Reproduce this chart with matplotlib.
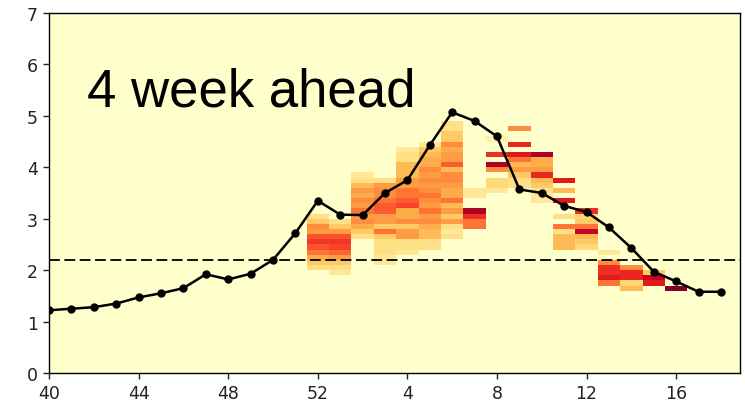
"""4 week ahead forecast heat strips over the observed ILI curve."""

import matplotlib

matplotlib.use("Agg")
import matplotlib.pyplot as plt
import numpy as np

# season weeks, 40..52 then 1..18
WEEKS = list(range(40, 53)) + list(range(1, 19))
OBSERVED = [1.22, 1.25, 1.28, 1.35, 1.47, 1.55, 1.65, 1.92, 1.82, 1.93, 2.2, 2.72, 3.35,
            3.08, 3.07, 3.5, 3.75, 4.43, 5.07, 4.9, 4.6, 3.57, 3.5, 3.25, 3.13, 2.83,
            2.43, 1.97, 1.78, 1.58, 1.58]
BASELINE = 2.2
TICK_WEEKS = [40, 44, 48, 52, 4, 8, 12, 16]

# forecast probability strips: week -> (lowest bin, levels per 0.1 bin going up)
FORECAST_START = {
    52: 2.0, 1: 1.9, 2: 2.6, 3: 2.1, 4: 2.3, 5: 2.4, 6: 2.6, 7: 2.8, 8: 3.5,
    9: 3.6, 10: 3.3, 11: 2.4, 12: 2.4, 13: 1.7, 14: 1.6, 15: 1.7, 16: 1.6,
}
FORECAST_LEVELS = {
    52: [.2, .3, .4, .55, .62, .68, .62, .45, .5, .3, .2],
    1: [.15, .2, .3, .45, .58, .65, .68, .62, .45, .3, .2],
    2: [.2, .3, .4, .5, .45, .55, .45, .5, .4, .45, .35, .2, .15],
    3: [.15, .15, .2, .2, .2, .3, .55, .3, .45, .45, .6, .6, .55, .5, .5, .45, .2],
    4: [.15, .2, .2, .45, .45, .3, .5, .4, .4, .65, .6, .55, .55, .45, .45, .35,
        .35, .35, .2, .2, .15],
    5: [.2, .2, .35, .35, .4, .5, .45, .55, .45, .5, .55, .5, .45, .5, .45, .5,
        .4, .4, .35, .3, .15],
    6: [.2, .15, .2, .45, .3, .45, .35, .55, .4, .4, .45, .5, .5, .35, .6, .45,
        .45, .4, .5, .3, .3, .2, .2],
    7: [.55, .55, .7, .9, 0, 0, .15, .15],
    8: [.15, .25, .25, 0, .5, .9, 0, .7, 0, 0, .1],
    9: [.2, .2, .3, .45, .35, .55, .75, 0, .72, 0, 0, .5],
    10: [.15, .15, .2, .3, .35, .72, .45, .4, .4, .9],
    11: [.35, .35, .35, .2, .55, 0, .2, 0, 0, .75, 0, .35, 0, .75],
    12: [.25, .3, .35, .85, .55, .3, .25, .7],
    13: [.55, .75, .7, .7, .5, 0, .15],
    14: [.35, .25, .72, .72, .5],
    15: [.75, .85, .3],
    16: [1.0],
}


def forecast_grid(bin_size: float = 0.1, y_max: float = 7.0) -> np.ndarray:
    n_bins = int(round(y_max / bin_size))
    grid = np.zeros((n_bins, len(WEEKS)))
    for week, start in FORECAST_START.items():
        col = WEEKS.index(week)
        row0 = int(round(start / bin_size))
        for k, level in enumerate(FORECAST_LEVELS[week]):
            grid[row0 + k, col] = level
    return np.ma.masked_equal(grid, 0)


def main() -> None:
    cmap = plt.get_cmap("YlOrRd")
    x = np.arange(len(WEEKS))

    fig = plt.figure(figsize=(7.45, 4.06), dpi=100)
    ax = fig.add_axes([0.0658, 0.0788, 0.9275, 0.8867])
    ax.set_facecolor(cmap(0.0))

    grid = forecast_grid()
    x_edges = np.arange(len(WEEKS) + 1) - 0.5
    y_edges = np.linspace(0, 7, grid.shape[0] + 1)
    ax.pcolormesh(x_edges, y_edges, grid, cmap=cmap, vmin=0, vmax=1, zorder=1)

    ax.axhline(BASELINE, color="black", lw=1.3, linestyle=(0, (6, 2.5)), zorder=2)
    ax.plot(x, OBSERVED, color="black", lw=1.8, marker="o", markersize=5, zorder=3)

    ax.text(0.055, 0.742, "4 week ahead", transform=ax.transAxes, fontsize=38,
            family="Liberation Sans", va="baseline", ha="left", zorder=4)

    ax.set_xlim(0, 30.85)
    ax.set_ylim(0, 7)
    ax.set_xticks([WEEKS.index(w) for w in TICK_WEEKS])
    ax.set_xticklabels([str(w) for w in TICK_WEEKS])
    ax.set_yticks(range(0, 8))
    ax.tick_params(labelsize=12.5, length=4.5, width=1.0, colors="#222222")
    for spine in ax.spines.values():
        spine.set_linewidth(1.0)

    fig.savefig("out.png", dpi=100)
    plt.close(fig)


if __name__ == "__main__":
    main()
